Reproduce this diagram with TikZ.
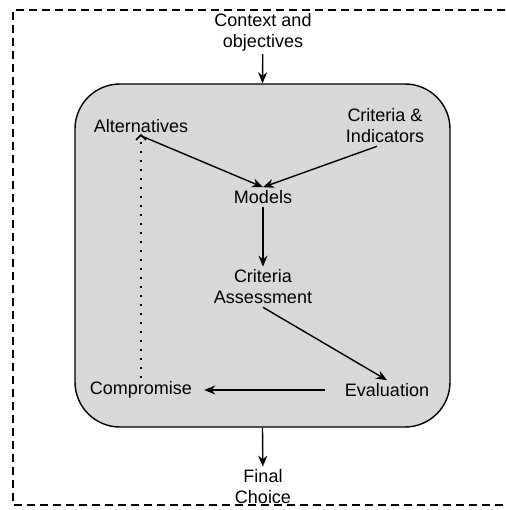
\documentclass[tikz,border=0pt]{standalone}
\usepackage{fontspec}
\setmainfont{Liberation Sans}
\usetikzlibrary{arrows.meta}
\definecolor{boxgray}{RGB}{216,216,216}
\begin{document}
\begin{tikzpicture}[x=1pt, y=-1pt]

\tikzset{lbl/.style = {align=center, inner sep=3pt, font=\fontsize{18}{21}\selectfont}}
\tikzset{arr/.style = {-{Stealth[length=11pt, width=9pt]}, line width=1.4pt}}
\tikzset{frame/.style = {dash pattern=on 8pt off 5pt, line width=1.4pt}}

\useasboundingbox (0, 0) rectangle (505, 510);

\draw[frame] (505, 10) -- (13, 10) -- (13, 505) -- (505, 505);

\node[draw, fill=boxgray, line width=1.4pt, rounded corners=45pt, minimum width=375pt, minimum height=343pt] (box) at (262.5, 255.5) {};

\node[lbl] (ctx) at (263, 32) {Context and\\objectives};
\node[lbl] (alt) at (141, 126) {Alternatives};
\node[lbl] (crit) at (385, 126) {Criteria \&\\Indicators};
\node[lbl] (models) at (263, 197) {Models};
\node[lbl] (assess) at (263, 287) {Criteria\\Assessment};
\node[lbl] (eval) at (387, 390) {Evaluation};
\node[lbl] (comp) at (141, 390) {Compromise};
\node[lbl] (final) at (263, 487) {Final\\Choice};

\draw[arr] (ctx) -- (box.north);
\draw[arr] (alt.south) -- (models.north);
\draw[arr] ([xshift=-8pt]crit.south) -- (models.north);
\draw[arr] (models) -- (assess);
\draw[arr] (assess.south) -- (eval.north);
\draw[arr, shorten <=17pt, shorten >=9pt] (eval.west) -- (comp.east);
\draw[-{Straight Barb[length=5pt, width=10pt, line width=1.6pt]}, line width=2pt, dash pattern=on 2pt off 7pt] (comp.north) -- ([yshift=2pt]alt.south);
\draw[arr] (box.south) -- (final);

\end{tikzpicture}
\end{document}
